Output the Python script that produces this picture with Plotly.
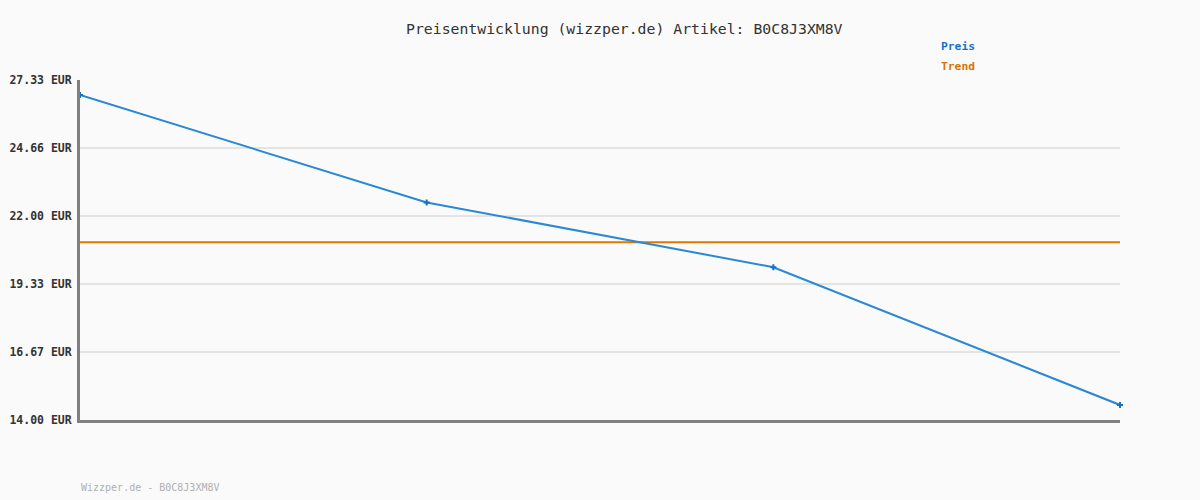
import plotly.graph_objects as go

x_idx = [0, 1, 2, 3]
preis = [26.74, 22.53, 19.99, 14.59]
trend_value = 20.97
trend = [trend_value] * len(x_idx)
tick_vals = [14.00, 16.67, 19.33, 22.00, 24.66, 27.33]
tick_text = ["14.00 EUR", "16.67 EUR", "19.33 EUR", "22.00 EUR", "24.66 EUR", "27.33 EUR"]

FONT = "DejaVu Sans Mono"
W, H = 1200, 500
L, R, T, B = 80, 80, 80, 80

def px(xp):
    return (xp - L) / (W - L - R)

def py(yp):
    return 1 - (yp - T) / (H - T - B)

fig = go.Figure()
fig.add_trace(go.Scatter(x=x_idx, y=trend, mode="lines",
                         line=dict(color="#e07800", width=2), name="Trend",
                         hoverinfo="skip"))
fig.add_trace(go.Scatter(x=x_idx, y=preis, mode="lines+markers",
                         line=dict(color="#2a88d4", width=2),
                         marker=dict(symbol="cross", size=5, color="#1a70c0"),
                         name="Preis", cliponaxis=False))

fig.update_layout(
    width=W, height=H,
    margin=dict(l=L, r=R, t=T, b=B, autoexpand=False),
    paper_bgcolor="#fafafa", plot_bgcolor="#fafafa",
    showlegend=False,
    font=dict(family=FONT, size=12, color="#333333"),
    xaxis=dict(range=[0, 3], showticklabels=False, showgrid=False, zeroline=False,
               showline=True, linecolor="#808080", linewidth=3, ticks="",
               automargin=False),
    yaxis=dict(range=[14.0, 27.33], tickvals=tick_vals, ticktext=tick_text,
               showgrid=True, gridcolor="#e4e4e4", gridwidth=2, zeroline=False,
               showline=True, linecolor="#808080", linewidth=3, ticks="",
               ticklabelstandoff=3, automargin=False,
               tickfont=dict(family=FONT, size=11.5, color="#333333", weight="bold")),
)

fig.add_annotation(text="Preisentwicklung (wizzper.de) Artikel: B0C8J3XM8V",
                   xref="paper", yref="paper", x=px(624), y=py(28),
                   xanchor="center", yanchor="middle", showarrow=False,
                   font=dict(family=FONT, size=14.8, color="#333333"))
fig.add_annotation(text="<b>Preis</b>", xref="paper", yref="paper",
                   x=px(939), y=py(47), xanchor="left", yanchor="middle",
                   showarrow=False, font=dict(family=FONT, size=11.3, color="#1a70c0"))
fig.add_annotation(text="<b>Trend</b>", xref="paper", yref="paper",
                   x=px(939), y=py(67), xanchor="left", yanchor="middle",
                   showarrow=False, font=dict(family=FONT, size=11.3, color="#d87400"))
fig.add_annotation(text="Wizzper.de - B0C8J3XM8V", xref="paper", yref="paper",
                   x=px(79), y=py(487), xanchor="left", yanchor="middle",
                   showarrow=False, font=dict(family=FONT, size=10, color="#b0b0b0"))

fig.write_html("out.html")
